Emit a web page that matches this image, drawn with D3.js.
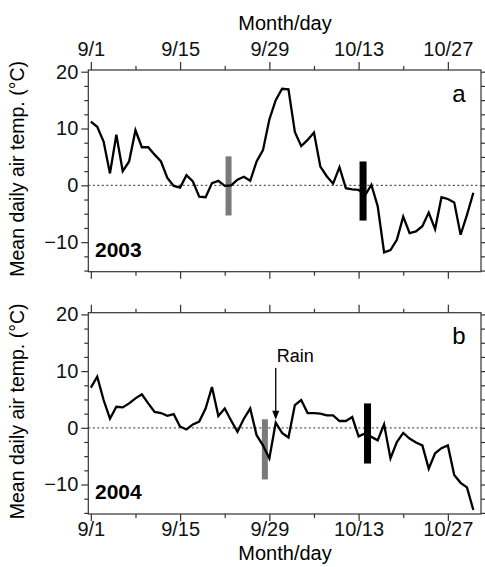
<!DOCTYPE html>
<html>
<head>
<meta charset="utf-8">
<script src="https://cdn.jsdelivr.net/npm/d3@7"></script>
<style>
  body { margin: 0; background: #fff; }
  svg { font-family: "Liberation Sans", Arial, Helvetica, sans-serif; }
</style>
</head>
<body>
<svg id="chart" width="485" height="567"></svg>
<script>
// day index 0 = 9/1, 60 = 10/31
const temp2003 = [11.2, 10.3, 7.7, 2.1, 8.9, 2.5, 4.2, 9.7, 6.7, 6.7, 5.4, 4.2, 1.3, -0.1, -0.4, 1.8,
  0.7, -2.0, -2.1, 0.4, 0.8, -0.1, 0.0, 1.0, 1.5, 0.8, 4.2, 6.2, 11.6, 15.0, 17.0, 16.9, 9.4, 6.9,
  8.0, 9.3, 3.3, 1.6, 0.3, 3.2, -0.5, -0.7, -0.8, -1.8, 0.1, -3.7, -11.8, -11.4, -9.6, -5.5, -8.4,
  -8.1, -7.2, -4.8, -7.7, -2.1, -2.4, -3.0, -8.7, -5.2, -1.3];
const temp2004 = [7.1, 9.0, 4.9, 1.6, 3.7, 3.6, 4.3, 5.2, 5.9, 4.3, 2.8, 2.6, 2.1, 2.4, 0.2, -0.3,
  0.6, 1.1, 3.4, 7.2, 2.1, 3.4, 1.3, -0.7, 1.6, 3.4, -1.3, -3.1, -5.4, 0.9, -0.9, -1.7, 4.0, 4.9,
  2.6, 2.6, 2.5, 2.2, 2.2, 1.2, 1.2, 1.9, -1.5, -1.0, -1.6, -2.2, 0.6, -5.4, -2.5, -0.9, -1.9,
  -2.6, -3.1, -7.2, -4.5, -3.6, -3.1, -8.3, -9.7, -10.5, -14.5];

// marker bars: [day, low, high]
const bars2003 = [{ day: 21.6, lo: -5.3, hi: 5.1, color: '#7a7a7a', w: 6 },
                  { day: 42.7, lo: -6.2, hi: 4.2, color: '#000', w: 7 }];
const bars2004 = [{ day: 27.3, lo: -9.1, hi: 1.5, color: '#7a7a7a', w: 6 },
                  { day: 43.4, lo: -6.3, hi: 4.3, color: '#000', w: 7 }];

const dayTicks = [0, 14, 28, 42, 56];
const dayLabels = ['9/1', '9/15', '9/29', '10/13', '10/27'];
const dayMinor = [7, 21, 35, 49];
const tempTicks = [-10, 0, 10, 20];
const tempMinor = [-15, -12.5, -7.5, -5, -2.5, 2.5, 5, 7.5, 12.5, 15, 17.5];

const svg = d3.select('#chart');
const left = 88.3, right = 481;

const x = d3.scaleLinear().domain([-0.4, 61.2]).range([left, right]);

const panels = [
  { data: temp2003, bars: bars2003, top: 70, bottom: 271.7, year: '2003', tag: 'a', topLabels: true },
  { data: temp2004, bars: bars2004, top: 312.7, bottom: 514, year: '2004', tag: 'b', topLabels: false, rain: 29 }
];

panels.forEach((p, i) => {
  const y = d3.scaleLinear().domain([-15.2, 20.3]).range([p.bottom, p.top]);
  const g = svg.append('g');

  // frame
  g.append('rect')
    .attr('x', left).attr('y', p.top)
    .attr('width', right - left).attr('height', p.bottom - p.top)
    .attr('fill', 'none').attr('stroke', '#333').attr('stroke-width', 1.2);

  // zero line
  g.append('line')
    .attr('x1', left).attr('x2', right)
    .attr('y1', y(0)).attr('y2', y(0))
    .attr('stroke', '#555').attr('stroke-width', 1.3)
    .attr('stroke-dasharray', '2,2.5');

  // left axis
  const yl = g.append('g').attr('transform', `translate(${left},0)`);
  yl.call(d3.axisLeft(y).tickValues(tempTicks).tickSize(7).tickPadding(3).tickFormat(d3.format('d')));
  yl.append('g').call(d3.axisLeft(y).tickValues(tempMinor).tickSize(4).tickFormat(''));
  // right axis
  const yr = g.append('g').attr('transform', `translate(${right},0)`);
  yr.call(d3.axisRight(y).tickValues(tempTicks.concat(tempMinor)).tickSize(4).tickFormat(''));

  // top axis
  const xt = g.append('g').attr('transform', `translate(0,${p.top})`);
  xt.call(d3.axisTop(x).tickValues(dayTicks).tickSize(8).tickPadding(6)
    .tickFormat(p.topLabels ? (d, k) => dayLabels[k] : ''));
  xt.append('g').call(d3.axisTop(x).tickValues(dayMinor).tickSize(4).tickFormat(''));
  // bottom axis
  const xb = g.append('g').attr('transform', `translate(0,${p.bottom})`);
  xb.call(d3.axisBottom(x).tickValues(dayTicks).tickSize(7).tickPadding(1)
    .tickFormat(p.topLabels ? '' : (d, k) => dayLabels[k]));
  xb.append('g').call(d3.axisBottom(x).tickValues(dayMinor).tickSize(4).tickFormat(''));

  g.selectAll('.domain').remove();
  g.selectAll('.tick line').attr('stroke', '#333').attr('stroke-width', 1.2);
  g.selectAll('.tick text').attr('font-size', 20).attr('fill', '#111')
    .attr('font-family', '"Liberation Sans", Arial, Helvetica, sans-serif');

  // bars
  g.selectAll('rect.bar').data(p.bars).join('rect')
    .attr('class', 'bar')
    .attr('x', d => x(d.day) - d.w / 2)
    .attr('width', d => d.w)
    .attr('y', d => y(d.hi))
    .attr('height', d => y(d.lo) - y(d.hi))
    .attr('fill', d => d.color);

  // series
  const line = d3.line().x((d, k) => x(k)).y(d => y(d));
  g.append('path').datum(p.data)
    .attr('d', line)
    .attr('fill', 'none').attr('stroke', '#000')
    .attr('stroke-width', 2.3).attr('stroke-linejoin', 'miter');

  // year + panel tag
  g.append('text').attr('x', 95).attr('y', p.bottom - 15)
    .attr('font-size', 21).attr('font-weight', 'bold').text(p.year);
  g.append('text').attr('x', 459).attr('y', p.top + (i === 0 ? 32 : 31))
    .attr('text-anchor', 'middle').attr('font-size', 24).text(p.tag);

  // y label
  g.append('text')
    .attr('transform', `translate(24,${(p.top + p.bottom) / 2 - 2}) rotate(-90)`)
    .attr('text-anchor', 'middle').attr('font-size', 19.5)
    .text('Mean daily air temp. (°C)');

  // rain annotation
  if (p.rain !== undefined) {
    const xr = x(p.rain);
    g.append('line')
      .attr('x1', xr).attr('x2', xr)
      .attr('y1', 368).attr('y2', y(p.data[p.rain]) - 10)
      .attr('stroke', '#000').attr('stroke-width', 1.3);
    g.append('path')
      .attr('d', `M${xr - 3.5},${y(p.data[p.rain]) - 12} L${xr},${y(p.data[p.rain]) - 3} L${xr + 3.5},${y(p.data[p.rain]) - 12} Z`)
      .attr('fill', '#000');
    g.append('text').attr('x', xr + 1).attr('y', 362)
      .attr('font-size', 18).text('Rain');
  }
});

// x titles
svg.append('text').attr('x', 285).attr('y', 30).attr('text-anchor', 'middle')
  .attr('font-size', 20).text('Month/day');
svg.append('text').attr('x', 285).attr('y', 560).attr('text-anchor', 'middle')
  .attr('font-size', 20).text('Month/day');
</script>
</body>
</html>
